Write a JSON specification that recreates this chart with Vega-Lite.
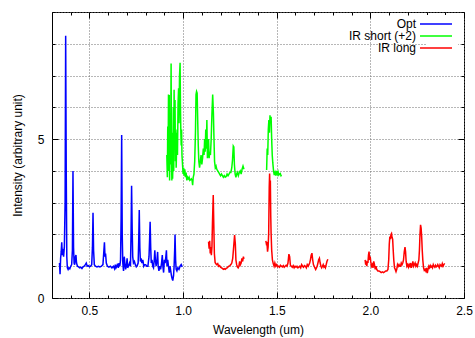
{
"$schema": "https://vega.github.io/schema/vega-lite/v6.json",
"width": 412, "height": 286,
"autosize": {"type": "none"},
"padding": {"left": 52, "top": 12, "right": 11, "bottom": 40},
"background": "white",
"config": {
  "view": {"stroke": "black", "strokeWidth": 1},
  "font": "Liberation Sans",
  "axis": {"labelFont": "Liberation Sans", "titleFont": "Liberation Sans", "labelFontSize": 12, "titleFontSize": 12, "titleFontWeight": "normal", "labelColor": "black", "titleColor": "black", "domain": false, "tickColor": "black", "gridColor": "#6e6e6e", "gridDash": [1, 2], "gridWidth": 1},
  "legend": {"labelFont": "Liberation Sans", "labelFontSize": 12, "labelColor": "black"}
},
"datasets": {
"opt": [
{"s":"Opt","g":"o","x":0.340,"y":1.10},{"s":"Opt","g":"o","x":0.343,"y":0.75},{"s":"Opt","g":"o","x":0.346,"y":1.25},{"s":"Opt","g":"o","x":0.349,"y":1.45},{"s":"Opt","g":"o","x":0.352,"y":1.75},{"s":"Opt","g":"o","x":0.355,"y":1.35},{"s":"Opt","g":"o","x":0.358,"y":1.55},{"s":"Opt","g":"o","x":0.362,"y":1.3},{"s":"Opt","g":"o","x":0.366,"y":1.6},{"s":"Opt","g":"o","x":0.370,"y":3.0},{"s":"Opt","g":"o","x":0.373,"y":8.25},{"s":"Opt","g":"o","x":0.376,"y":4.0},{"s":"Opt","g":"o","x":0.379,"y":1.3},{"s":"Opt","g":"o","x":0.382,"y":0.95},{"s":"Opt","g":"o","x":0.386,"y":0.9},{"s":"Opt","g":"o","x":0.390,"y":0.95},{"s":"Opt","g":"o","x":0.395,"y":0.92},{"s":"Opt","g":"o","x":0.400,"y":1.0},{"s":"Opt","g":"o","x":0.405,"y":1.05},{"s":"Opt","g":"o","x":0.409,"y":1.5},{"s":"Opt","g":"o","x":0.412,"y":4.0},{"s":"Opt","g":"o","x":0.415,"y":1.6},{"s":"Opt","g":"o","x":0.418,"y":1.1},{"s":"Opt","g":"o","x":0.421,"y":1.05},{"s":"Opt","g":"o","x":0.425,"y":1.3},{"s":"Opt","g":"o","x":0.428,"y":1.35},{"s":"Opt","g":"o","x":0.431,"y":1.1},{"s":"Opt","g":"o","x":0.436,"y":1.0},{"s":"Opt","g":"o","x":0.442,"y":0.98},{"s":"Opt","g":"o","x":0.448,"y":0.95},{"s":"Opt","g":"o","x":0.454,"y":0.97},{"s":"Opt","g":"o","x":0.460,"y":0.93},{"s":"Opt","g":"o","x":0.466,"y":0.98},{"s":"Opt","g":"o","x":0.472,"y":1.0},{"s":"Opt","g":"o","x":0.478,"y":1.05},{"s":"Opt","g":"o","x":0.483,"y":1.1},{"s":"Opt","g":"o","x":0.488,"y":1.0},{"s":"Opt","g":"o","x":0.494,"y":1.02},{"s":"Opt","g":"o","x":0.500,"y":0.98},{"s":"Opt","g":"o","x":0.506,"y":1.0},{"s":"Opt","g":"o","x":0.512,"y":1.05},{"s":"Opt","g":"o","x":0.516,"y":1.6},{"s":"Opt","g":"o","x":0.519,"y":2.68},{"s":"Opt","g":"o","x":0.522,"y":1.5},{"s":"Opt","g":"o","x":0.526,"y":1.05},{"s":"Opt","g":"o","x":0.532,"y":1.0},{"s":"Opt","g":"o","x":0.540,"y":0.98},{"s":"Opt","g":"o","x":0.548,"y":1.0},{"s":"Opt","g":"o","x":0.556,"y":0.98},{"s":"Opt","g":"o","x":0.564,"y":1.0},{"s":"Opt","g":"o","x":0.572,"y":1.05},{"s":"Opt","g":"o","x":0.576,"y":1.4},{"s":"Opt","g":"o","x":0.580,"y":1.75},{"s":"Opt","g":"o","x":0.583,"y":1.3},{"s":"Opt","g":"o","x":0.586,"y":1.4},{"s":"Opt","g":"o","x":0.590,"y":1.1},{"s":"Opt","g":"o","x":0.596,"y":1.0},{"s":"Opt","g":"o","x":0.604,"y":0.97},{"s":"Opt","g":"o","x":0.612,"y":1.0},{"s":"Opt","g":"o","x":0.620,"y":0.95},{"s":"Opt","g":"o","x":0.628,"y":1.0},{"s":"Opt","g":"o","x":0.634,"y":0.92},{"s":"Opt","g":"o","x":0.638,"y":1.05},{"s":"Opt","g":"o","x":0.642,"y":0.95},{"s":"Opt","g":"o","x":0.646,"y":1.0},{"s":"Opt","g":"o","x":0.650,"y":1.08},{"s":"Opt","g":"o","x":0.654,"y":0.95},{"s":"Opt","g":"o","x":0.658,"y":1.1},{"s":"Opt","g":"o","x":0.662,"y":1.0},{"s":"Opt","g":"o","x":0.666,"y":1.2},{"s":"Opt","g":"o","x":0.669,"y":2.5},{"s":"Opt","g":"o","x":0.672,"y":5.13},{"s":"Opt","g":"o","x":0.675,"y":2.0},{"s":"Opt","g":"o","x":0.678,"y":1.1},{"s":"Opt","g":"o","x":0.682,"y":0.85},{"s":"Opt","g":"o","x":0.686,"y":1.3},{"s":"Opt","g":"o","x":0.689,"y":1.1},{"s":"Opt","g":"o","x":0.693,"y":0.9},{"s":"Opt","g":"o","x":0.697,"y":1.0},{"s":"Opt","g":"o","x":0.701,"y":1.25},{"s":"Opt","g":"o","x":0.704,"y":0.95},{"s":"Opt","g":"o","x":0.708,"y":1.0},{"s":"Opt","g":"o","x":0.714,"y":1.1},{"s":"Opt","g":"o","x":0.719,"y":1.0},{"s":"Opt","g":"o","x":0.722,"y":2.0},{"s":"Opt","g":"o","x":0.725,"y":3.53},{"s":"Opt","g":"o","x":0.728,"y":2.2},{"s":"Opt","g":"o","x":0.731,"y":1.3},{"s":"Opt","g":"o","x":0.735,"y":1.1},{"s":"Opt","g":"o","x":0.740,"y":1.15},{"s":"Opt","g":"o","x":0.745,"y":1.05},{"s":"Opt","g":"o","x":0.750,"y":0.98},{"s":"Opt","g":"o","x":0.755,"y":1.02},{"s":"Opt","g":"o","x":0.760,"y":1.1},{"s":"Opt","g":"o","x":0.763,"y":1.8},{"s":"Opt","g":"o","x":0.766,"y":2.77},{"s":"Opt","g":"o","x":0.769,"y":1.6},{"s":"Opt","g":"o","x":0.772,"y":1.15},{"s":"Opt","g":"o","x":0.776,"y":1.25},{"s":"Opt","g":"o","x":0.780,"y":1.1},{"s":"Opt","g":"o","x":0.785,"y":1.2},{"s":"Opt","g":"o","x":0.790,"y":1.0},{"s":"Opt","g":"o","x":0.795,"y":1.05},{"s":"Opt","g":"o","x":0.800,"y":1.05},{"s":"Opt","g":"o","x":0.806,"y":1.0},{"s":"Opt","g":"o","x":0.812,"y":1.0},{"s":"Opt","g":"o","x":0.818,"y":1.3},{"s":"Opt","g":"o","x":0.821,"y":1.8},{"s":"Opt","g":"o","x":0.824,"y":2.4},{"s":"Opt","g":"o","x":0.827,"y":1.6},{"s":"Opt","g":"o","x":0.830,"y":1.1},{"s":"Opt","g":"o","x":0.834,"y":1.2},{"s":"Opt","g":"o","x":0.838,"y":1.0},{"s":"Opt","g":"o","x":0.842,"y":0.95},{"s":"Opt","g":"o","x":0.846,"y":1.2},{"s":"Opt","g":"o","x":0.849,"y":1.5},{"s":"Opt","g":"o","x":0.852,"y":1.2},{"s":"Opt","g":"o","x":0.856,"y":1.0},{"s":"Opt","g":"o","x":0.860,"y":1.15},{"s":"Opt","g":"o","x":0.864,"y":1.45},{"s":"Opt","g":"o","x":0.867,"y":1.0},{"s":"Opt","g":"o","x":0.871,"y":0.85},{"s":"Opt","g":"o","x":0.875,"y":1.0},{"s":"Opt","g":"o","x":0.880,"y":0.9},{"s":"Opt","g":"o","x":0.885,"y":1.1},{"s":"Opt","g":"o","x":0.889,"y":1.35},{"s":"Opt","g":"o","x":0.892,"y":1.0},{"s":"Opt","g":"o","x":0.896,"y":0.8},{"s":"Opt","g":"o","x":0.900,"y":1.2},{"s":"Opt","g":"o","x":0.904,"y":1.1},{"s":"Opt","g":"o","x":0.908,"y":1.3},{"s":"Opt","g":"o","x":0.911,"y":1.5},{"s":"Opt","g":"o","x":0.914,"y":1.0},{"s":"Opt","g":"o","x":0.918,"y":1.2},{"s":"Opt","g":"o","x":0.922,"y":1.0},{"s":"Opt","g":"o","x":0.926,"y":0.8},{"s":"Opt","g":"o","x":0.930,"y":1.0},{"s":"Opt","g":"o","x":0.934,"y":0.85},{"s":"Opt","g":"o","x":0.938,"y":0.7},{"s":"Opt","g":"o","x":0.942,"y":0.6},{"s":"Opt","g":"o","x":0.945,"y":0.55},{"s":"Opt","g":"o","x":0.949,"y":0.7},{"s":"Opt","g":"o","x":0.952,"y":1.0},{"s":"Opt","g":"o","x":0.955,"y":1.5},{"s":"Opt","g":"o","x":0.957,"y":2.0},{"s":"Opt","g":"o","x":0.960,"y":1.2},{"s":"Opt","g":"o","x":0.963,"y":0.9},{"s":"Opt","g":"o","x":0.967,"y":0.85},{"s":"Opt","g":"o","x":0.972,"y":0.95},{"s":"Opt","g":"o","x":0.978,"y":0.9},{"s":"Opt","g":"o","x":0.984,"y":1.0},{"s":"Opt","g":"o","x":0.990,"y":1.05},{"s":"Opt","g":"o","x":0.995,"y":0.98}
],
"irs": [
{"s":"IR short (+2)","g":"s1","x":0.913,"y":4.5},{"s":"IR short (+2)","g":"s1","x":0.916,"y":3.8},{"s":"IR short (+2)","g":"s1","x":0.918,"y":5.4},{"s":"IR short (+2)","g":"s1","x":0.920,"y":4.2},{"s":"IR short (+2)","g":"s1","x":0.922,"y":6.4},{"s":"IR short (+2)","g":"s1","x":0.924,"y":4.0},{"s":"IR short (+2)","g":"s1","x":0.926,"y":6.39},{"s":"IR short (+2)","g":"s1","x":0.928,"y":3.7},{"s":"IR short (+2)","g":"s1","x":0.930,"y":5.0},{"s":"IR short (+2)","g":"s1","x":0.933,"y":4.2},{"s":"IR short (+2)","g":"s1","x":0.936,"y":7.38},{"s":"IR short (+2)","g":"s1","x":0.938,"y":4.5},{"s":"IR short (+2)","g":"s1","x":0.940,"y":3.7},{"s":"IR short (+2)","g":"s1","x":0.942,"y":5.2},{"s":"IR short (+2)","g":"s1","x":0.944,"y":3.75},{"s":"IR short (+2)","g":"s1","x":0.946,"y":4.3},{"s":"IR short (+2)","g":"s1","x":0.948,"y":6.0},{"s":"IR short (+2)","g":"s1","x":0.950,"y":4.0},{"s":"IR short (+2)","g":"s1","x":0.952,"y":6.55},{"s":"IR short (+2)","g":"s1","x":0.954,"y":4.8},{"s":"IR short (+2)","g":"s1","x":0.957,"y":6.23},{"s":"IR short (+2)","g":"s1","x":0.959,"y":4.3},{"s":"IR short (+2)","g":"s1","x":0.961,"y":5.2},{"s":"IR short (+2)","g":"s1","x":0.963,"y":4.1},{"s":"IR short (+2)","g":"s1","x":0.965,"y":4.6},{"s":"IR short (+2)","g":"s1","x":0.968,"y":5.3},{"s":"IR short (+2)","g":"s1","x":0.970,"y":4.5},{"s":"IR short (+2)","g":"s1","x":0.973,"y":6.1},{"s":"IR short (+2)","g":"s1","x":0.976,"y":6.6},{"s":"IR short (+2)","g":"s1","x":0.978,"y":5.5},{"s":"IR short (+2)","g":"s1","x":0.981,"y":7.0},{"s":"IR short (+2)","g":"s1","x":0.984,"y":7.4},{"s":"IR short (+2)","g":"s1","x":0.986,"y":6.0},{"s":"IR short (+2)","g":"s1","x":0.988,"y":5.2},{"s":"IR short (+2)","g":"s1","x":0.990,"y":4.8},{"s":"IR short (+2)","g":"s1","x":0.992,"y":5.3},{"s":"IR short (+2)","g":"s1","x":0.994,"y":4.5},{"s":"IR short (+2)","g":"s1","x":0.997,"y":4.2},{"s":"IR short (+2)","g":"s1","x":1.000,"y":3.9},{"s":"IR short (+2)","g":"s1","x":1.003,"y":4.1},{"s":"IR short (+2)","g":"s1","x":1.006,"y":3.85},{"s":"IR short (+2)","g":"s1","x":1.009,"y":4.05},{"s":"IR short (+2)","g":"s1","x":1.012,"y":3.8},{"s":"IR short (+2)","g":"s1","x":1.016,"y":3.95},{"s":"IR short (+2)","g":"s1","x":1.020,"y":3.7},{"s":"IR short (+2)","g":"s1","x":1.024,"y":3.8},{"s":"IR short (+2)","g":"s1","x":1.028,"y":3.75},{"s":"IR short (+2)","g":"s1","x":1.032,"y":3.8},{"s":"IR short (+2)","g":"s1","x":1.036,"y":3.7},{"s":"IR short (+2)","g":"s1","x":1.040,"y":3.72},{"s":"IR short (+2)","g":"s1","x":1.044,"y":3.75},{"s":"IR short (+2)","g":"s1","x":1.048,"y":3.7},{"s":"IR short (+2)","g":"s1","x":1.051,"y":3.55},{"s":"IR short (+2)","g":"s1","x":1.054,"y":3.8},{"s":"IR short (+2)","g":"s1","x":1.058,"y":3.9},{"s":"IR short (+2)","g":"s1","x":1.062,"y":4.3},{"s":"IR short (+2)","g":"s1","x":1.066,"y":5.2},{"s":"IR short (+2)","g":"s1","x":1.069,"y":6.4},{"s":"IR short (+2)","g":"s1","x":1.072,"y":6.5},{"s":"IR short (+2)","g":"s1","x":1.075,"y":6.45},{"s":"IR short (+2)","g":"s1","x":1.078,"y":5.6},{"s":"IR short (+2)","g":"s1","x":1.081,"y":4.8},{"s":"IR short (+2)","g":"s1","x":1.084,"y":4.3},{"s":"IR short (+2)","g":"s1","x":1.088,"y":4.1},{"s":"IR short (+2)","g":"s1","x":1.092,"y":4.3},{"s":"IR short (+2)","g":"s1","x":1.096,"y":4.5},{"s":"IR short (+2)","g":"s1","x":1.100,"y":4.2},{"s":"IR short (+2)","g":"s1","x":1.104,"y":4.4},{"s":"IR short (+2)","g":"s1","x":1.108,"y":4.7},{"s":"IR short (+2)","g":"s1","x":1.112,"y":4.5},{"s":"IR short (+2)","g":"s1","x":1.115,"y":5.0},{"s":"IR short (+2)","g":"s1","x":1.118,"y":4.6},{"s":"IR short (+2)","g":"s1","x":1.121,"y":5.3},{"s":"IR short (+2)","g":"s1","x":1.124,"y":4.7},{"s":"IR short (+2)","g":"s1","x":1.127,"y":5.6},{"s":"IR short (+2)","g":"s1","x":1.130,"y":4.4},{"s":"IR short (+2)","g":"s1","x":1.133,"y":4.6},{"s":"IR short (+2)","g":"s1","x":1.136,"y":5.0},{"s":"IR short (+2)","g":"s1","x":1.139,"y":4.4},{"s":"IR short (+2)","g":"s1","x":1.142,"y":4.6},{"s":"IR short (+2)","g":"s1","x":1.146,"y":4.5},{"s":"IR short (+2)","g":"s1","x":1.150,"y":5.0},{"s":"IR short (+2)","g":"s1","x":1.154,"y":5.8},{"s":"IR short (+2)","g":"s1","x":1.158,"y":6.4},{"s":"IR short (+2)","g":"s1","x":1.162,"y":5.8},{"s":"IR short (+2)","g":"s1","x":1.165,"y":5.0},{"s":"IR short (+2)","g":"s1","x":1.168,"y":4.3},{"s":"IR short (+2)","g":"s1","x":1.172,"y":4.1},{"s":"IR short (+2)","g":"s1","x":1.176,"y":4.15},{"s":"IR short (+2)","g":"s1","x":1.180,"y":4.05},{"s":"IR short (+2)","g":"s1","x":1.185,"y":4.0},{"s":"IR short (+2)","g":"s1","x":1.190,"y":3.95},{"s":"IR short (+2)","g":"s1","x":1.195,"y":3.9},{"s":"IR short (+2)","g":"s1","x":1.200,"y":3.85},{"s":"IR short (+2)","g":"s1","x":1.205,"y":3.9},{"s":"IR short (+2)","g":"s1","x":1.210,"y":3.85},{"s":"IR short (+2)","g":"s1","x":1.215,"y":3.8},{"s":"IR short (+2)","g":"s1","x":1.220,"y":3.85},{"s":"IR short (+2)","g":"s1","x":1.225,"y":3.8},{"s":"IR short (+2)","g":"s1","x":1.230,"y":3.82},{"s":"IR short (+2)","g":"s1","x":1.235,"y":3.9},{"s":"IR short (+2)","g":"s1","x":1.240,"y":3.85},{"s":"IR short (+2)","g":"s1","x":1.245,"y":3.9},{"s":"IR short (+2)","g":"s1","x":1.250,"y":3.95},{"s":"IR short (+2)","g":"s1","x":1.255,"y":3.95},{"s":"IR short (+2)","g":"s1","x":1.260,"y":4.1},{"s":"IR short (+2)","g":"s1","x":1.264,"y":4.35},{"s":"IR short (+2)","g":"s1","x":1.268,"y":4.78},{"s":"IR short (+2)","g":"s1","x":1.271,"y":4.75},{"s":"IR short (+2)","g":"s1","x":1.274,"y":4.2},{"s":"IR short (+2)","g":"s1","x":1.278,"y":3.9},{"s":"IR short (+2)","g":"s1","x":1.282,"y":3.8},{"s":"IR short (+2)","g":"s1","x":1.286,"y":3.9},{"s":"IR short (+2)","g":"s1","x":1.290,"y":3.95},{"s":"IR short (+2)","g":"s1","x":1.295,"y":3.85},{"s":"IR short (+2)","g":"s1","x":1.300,"y":3.95},{"s":"IR short (+2)","g":"s1","x":1.305,"y":4.0},{"s":"IR short (+2)","g":"s1","x":1.310,"y":3.9},{"s":"IR short (+2)","g":"s1","x":1.315,"y":4.05},{"s":"IR short (+2)","g":"s1","x":1.320,"y":4.15},{"s":"IR short (+2)","g":"s1","x":1.325,"y":4.05},
{"s":"IR short (+2)","g":"s2","x":1.446,"y":4.03},{"s":"IR short (+2)","g":"s2","x":1.449,"y":4.7},{"s":"IR short (+2)","g":"s2","x":1.452,"y":4.5},{"s":"IR short (+2)","g":"s2","x":1.455,"y":5.3},{"s":"IR short (+2)","g":"s2","x":1.458,"y":5.6},{"s":"IR short (+2)","g":"s2","x":1.461,"y":5.2},{"s":"IR short (+2)","g":"s2","x":1.464,"y":5.75},{"s":"IR short (+2)","g":"s2","x":1.467,"y":5.5},{"s":"IR short (+2)","g":"s2","x":1.470,"y":5.7},{"s":"IR short (+2)","g":"s2","x":1.473,"y":5.0},{"s":"IR short (+2)","g":"s2","x":1.476,"y":4.5},{"s":"IR short (+2)","g":"s2","x":1.479,"y":4.25},{"s":"IR short (+2)","g":"s2","x":1.483,"y":4.0},{"s":"IR short (+2)","g":"s2","x":1.487,"y":3.87},{"s":"IR short (+2)","g":"s2","x":1.491,"y":3.95},{"s":"IR short (+2)","g":"s2","x":1.495,"y":3.85},{"s":"IR short (+2)","g":"s2","x":1.499,"y":4.0},{"s":"IR short (+2)","g":"s2","x":1.503,"y":3.9},{"s":"IR short (+2)","g":"s2","x":1.507,"y":3.97},{"s":"IR short (+2)","g":"s2","x":1.511,"y":3.87},{"s":"IR short (+2)","g":"s2","x":1.515,"y":3.9},{"s":"IR short (+2)","g":"s2","x":1.519,"y":3.92},{"s":"IR short (+2)","g":"s2","x":1.523,"y":3.85},{"s":"IR short (+2)","g":"s2","x":1.526,"y":3.87}
],
"irl": [
{"s":"IR long","g":"l1","x":1.136,"y":1.77},{"s":"IR long","g":"l1","x":1.139,"y":1.55},{"s":"IR long","g":"l1","x":1.142,"y":1.8},{"s":"IR long","g":"l1","x":1.145,"y":1.4},{"s":"IR long","g":"l1","x":1.148,"y":1.6},{"s":"IR long","g":"l1","x":1.151,"y":1.35},{"s":"IR long","g":"l1","x":1.154,"y":1.6},{"s":"IR long","g":"l1","x":1.157,"y":2.4},{"s":"IR long","g":"l1","x":1.161,"y":3.24},{"s":"IR long","g":"l1","x":1.164,"y":2.3},{"s":"IR long","g":"l1","x":1.167,"y":1.4},{"s":"IR long","g":"l1","x":1.171,"y":1.12},{"s":"IR long","g":"l1","x":1.175,"y":1.08},{"s":"IR long","g":"l1","x":1.180,"y":1.05},{"s":"IR long","g":"l1","x":1.185,"y":1.08},{"s":"IR long","g":"l1","x":1.190,"y":1.0},{"s":"IR long","g":"l1","x":1.195,"y":1.02},{"s":"IR long","g":"l1","x":1.200,"y":0.97},{"s":"IR long","g":"l1","x":1.205,"y":0.95},{"s":"IR long","g":"l1","x":1.210,"y":0.93},{"s":"IR long","g":"l1","x":1.215,"y":0.9},{"s":"IR long","g":"l1","x":1.220,"y":0.92},{"s":"IR long","g":"l1","x":1.225,"y":0.9},{"s":"IR long","g":"l1","x":1.230,"y":0.93},{"s":"IR long","g":"l1","x":1.235,"y":0.95},{"s":"IR long","g":"l1","x":1.240,"y":0.98},{"s":"IR long","g":"l1","x":1.245,"y":1.0},{"s":"IR long","g":"l1","x":1.250,"y":1.02},{"s":"IR long","g":"l1","x":1.255,"y":1.05},{"s":"IR long","g":"l1","x":1.260,"y":1.1},{"s":"IR long","g":"l1","x":1.265,"y":1.25},{"s":"IR long","g":"l1","x":1.270,"y":1.6},{"s":"IR long","g":"l1","x":1.275,"y":1.98},{"s":"IR long","g":"l1","x":1.279,"y":1.7},{"s":"IR long","g":"l1","x":1.282,"y":1.2},{"s":"IR long","g":"l1","x":1.286,"y":1.05},{"s":"IR long","g":"l1","x":1.290,"y":0.98},{"s":"IR long","g":"l1","x":1.294,"y":0.95},{"s":"IR long","g":"l1","x":1.298,"y":1.0},{"s":"IR long","g":"l1","x":1.302,"y":1.15},{"s":"IR long","g":"l1","x":1.306,"y":1.05},{"s":"IR long","g":"l1","x":1.310,"y":1.1},{"s":"IR long","g":"l1","x":1.314,"y":1.25},{"s":"IR long","g":"l1","x":1.318,"y":1.15},{"s":"IR long","g":"l1","x":1.322,"y":1.3},{"s":"IR long","g":"l1","x":1.325,"y":1.23},
{"s":"IR long","g":"l2","x":1.442,"y":1.8},{"s":"IR long","g":"l2","x":1.445,"y":1.7},{"s":"IR long","g":"l2","x":1.448,"y":1.72},{"s":"IR long","g":"l2","x":1.451,"y":1.46},{"s":"IR long","g":"l2","x":1.454,"y":1.6},{"s":"IR long","g":"l2","x":1.457,"y":2.03},{"s":"IR long","g":"l2","x":1.460,"y":3.5},{"s":"IR long","g":"l2","x":1.462,"y":3.92},{"s":"IR long","g":"l2","x":1.464,"y":3.4},{"s":"IR long","g":"l2","x":1.466,"y":3.7},{"s":"IR long","g":"l2","x":1.468,"y":2.6},{"s":"IR long","g":"l2","x":1.470,"y":2.03},{"s":"IR long","g":"l2","x":1.473,"y":1.51},{"s":"IR long","g":"l2","x":1.477,"y":1.2},{"s":"IR long","g":"l2","x":1.481,"y":1.09},{"s":"IR long","g":"l2","x":1.486,"y":1.0},{"s":"IR long","g":"l2","x":1.490,"y":1.1},{"s":"IR long","g":"l2","x":1.495,"y":1.0},{"s":"IR long","g":"l2","x":1.500,"y":1.05},{"s":"IR long","g":"l2","x":1.505,"y":0.98},{"s":"IR long","g":"l2","x":1.510,"y":1.0},{"s":"IR long","g":"l2","x":1.515,"y":0.97},{"s":"IR long","g":"l2","x":1.520,"y":1.03},{"s":"IR long","g":"l2","x":1.525,"y":1.0},{"s":"IR long","g":"l2","x":1.530,"y":0.98},{"s":"IR long","g":"l2","x":1.535,"y":1.02},{"s":"IR long","g":"l2","x":1.540,"y":0.97},{"s":"IR long","g":"l2","x":1.545,"y":1.0},{"s":"IR long","g":"l2","x":1.550,"y":1.03},{"s":"IR long","g":"l2","x":1.555,"y":1.0},{"s":"IR long","g":"l2","x":1.560,"y":1.1},{"s":"IR long","g":"l2","x":1.565,"y":1.38},{"s":"IR long","g":"l2","x":1.569,"y":1.3},{"s":"IR long","g":"l2","x":1.573,"y":1.03},{"s":"IR long","g":"l2","x":1.578,"y":1.0},{"s":"IR long","g":"l2","x":1.583,"y":0.97},{"s":"IR long","g":"l2","x":1.588,"y":1.02},{"s":"IR long","g":"l2","x":1.593,"y":0.95},{"s":"IR long","g":"l2","x":1.598,"y":1.0},{"s":"IR long","g":"l2","x":1.603,"y":0.97},{"s":"IR long","g":"l2","x":1.608,"y":1.0},{"s":"IR long","g":"l2","x":1.613,"y":0.95},{"s":"IR long","g":"l2","x":1.618,"y":0.97},{"s":"IR long","g":"l2","x":1.623,"y":1.0},{"s":"IR long","g":"l2","x":1.628,"y":0.95},{"s":"IR long","g":"l2","x":1.633,"y":1.05},{"s":"IR long","g":"l2","x":1.638,"y":1.0},{"s":"IR long","g":"l2","x":1.643,"y":0.97},{"s":"IR long","g":"l2","x":1.648,"y":1.02},{"s":"IR long","g":"l2","x":1.653,"y":1.0},{"s":"IR long","g":"l2","x":1.658,"y":0.95},{"s":"IR long","g":"l2","x":1.663,"y":1.05},{"s":"IR long","g":"l2","x":1.668,"y":1.0},{"s":"IR long","g":"l2","x":1.672,"y":1.05},{"s":"IR long","g":"l2","x":1.676,"y":1.1},{"s":"IR long","g":"l2","x":1.680,"y":1.2},{"s":"IR long","g":"l2","x":1.684,"y":1.35},{"s":"IR long","g":"l2","x":1.688,"y":1.41},{"s":"IR long","g":"l2","x":1.692,"y":1.2},{"s":"IR long","g":"l2","x":1.696,"y":1.05},{"s":"IR long","g":"l2","x":1.700,"y":1.0},{"s":"IR long","g":"l2","x":1.704,"y":0.95},{"s":"IR long","g":"l2","x":1.708,"y":0.9},{"s":"IR long","g":"l2","x":1.712,"y":0.95},{"s":"IR long","g":"l2","x":1.716,"y":1.0},{"s":"IR long","g":"l2","x":1.720,"y":1.1},{"s":"IR long","g":"l2","x":1.724,"y":1.2},{"s":"IR long","g":"l2","x":1.728,"y":1.25},{"s":"IR long","g":"l2","x":1.732,"y":1.1},{"s":"IR long","g":"l2","x":1.736,"y":1.0},{"s":"IR long","g":"l2","x":1.740,"y":0.95},{"s":"IR long","g":"l2","x":1.744,"y":1.0},{"s":"IR long","g":"l2","x":1.748,"y":1.05},{"s":"IR long","g":"l2","x":1.752,"y":0.97},{"s":"IR long","g":"l2","x":1.756,"y":1.0},{"s":"IR long","g":"l2","x":1.760,"y":0.95},{"s":"IR long","g":"l2","x":1.764,"y":1.05},{"s":"IR long","g":"l2","x":1.768,"y":1.15},{"s":"IR long","g":"l2","x":1.773,"y":1.22},
{"s":"IR long","g":"l3","x":1.972,"y":1.2},{"s":"IR long","g":"l3","x":1.975,"y":1.05},{"s":"IR long","g":"l3","x":1.978,"y":1.1},{"s":"IR long","g":"l3","x":1.981,"y":1.0},{"s":"IR long","g":"l3","x":1.984,"y":1.15},{"s":"IR long","g":"l3","x":1.987,"y":1.1},{"s":"IR long","g":"l3","x":1.990,"y":1.35},{"s":"IR long","g":"l3","x":1.993,"y":1.46},{"s":"IR long","g":"l3","x":1.996,"y":1.2},{"s":"IR long","g":"l3","x":1.999,"y":1.3},{"s":"IR long","g":"l3","x":2.002,"y":1.15},{"s":"IR long","g":"l3","x":2.006,"y":1.0},{"s":"IR long","g":"l3","x":2.010,"y":1.05},{"s":"IR long","g":"l3","x":2.014,"y":0.95},{"s":"IR long","g":"l3","x":2.018,"y":1.15},{"s":"IR long","g":"l3","x":2.022,"y":1.05},{"s":"IR long","g":"l3","x":2.026,"y":0.9},{"s":"IR long","g":"l3","x":2.030,"y":1.0},{"s":"IR long","g":"l3","x":2.034,"y":0.9},{"s":"IR long","g":"l3","x":2.040,"y":0.85},{"s":"IR long","g":"l3","x":2.046,"y":0.85},{"s":"IR long","g":"l3","x":2.052,"y":0.83},{"s":"IR long","g":"l3","x":2.058,"y":0.8},{"s":"IR long","g":"l3","x":2.064,"y":0.82},{"s":"IR long","g":"l3","x":2.070,"y":0.8},{"s":"IR long","g":"l3","x":2.076,"y":0.82},{"s":"IR long","g":"l3","x":2.082,"y":0.85},{"s":"IR long","g":"l3","x":2.088,"y":0.85},{"s":"IR long","g":"l3","x":2.094,"y":0.9},{"s":"IR long","g":"l3","x":2.098,"y":1.2},{"s":"IR long","g":"l3","x":2.101,"y":1.7},{"s":"IR long","g":"l3","x":2.104,"y":1.93},{"s":"IR long","g":"l3","x":2.107,"y":1.85},{"s":"IR long","g":"l3","x":2.110,"y":2.0},{"s":"IR long","g":"l3","x":2.113,"y":2.03},{"s":"IR long","g":"l3","x":2.116,"y":1.9},{"s":"IR long","g":"l3","x":2.119,"y":1.85},{"s":"IR long","g":"l3","x":2.122,"y":1.5},{"s":"IR long","g":"l3","x":2.125,"y":1.2},{"s":"IR long","g":"l3","x":2.129,"y":0.95},{"s":"IR long","g":"l3","x":2.133,"y":0.9},{"s":"IR long","g":"l3","x":2.137,"y":0.83},{"s":"IR long","g":"l3","x":2.141,"y":0.9},{"s":"IR long","g":"l3","x":2.145,"y":1.05},{"s":"IR long","g":"l3","x":2.149,"y":1.0},{"s":"IR long","g":"l3","x":2.153,"y":1.05},{"s":"IR long","g":"l3","x":2.157,"y":1.0},{"s":"IR long","g":"l3","x":2.161,"y":1.0},{"s":"IR long","g":"l3","x":2.165,"y":1.1},{"s":"IR long","g":"l3","x":2.169,"y":1.05},{"s":"IR long","g":"l3","x":2.173,"y":1.1},{"s":"IR long","g":"l3","x":2.177,"y":1.2},{"s":"IR long","g":"l3","x":2.181,"y":1.45},{"s":"IR long","g":"l3","x":2.185,"y":1.6},{"s":"IR long","g":"l3","x":2.188,"y":1.45},{"s":"IR long","g":"l3","x":2.191,"y":1.15},{"s":"IR long","g":"l3","x":2.195,"y":1.0},{"s":"IR long","g":"l3","x":2.199,"y":1.05},{"s":"IR long","g":"l3","x":2.203,"y":0.97},{"s":"IR long","g":"l3","x":2.207,"y":1.05},{"s":"IR long","g":"l3","x":2.211,"y":1.0},{"s":"IR long","g":"l3","x":2.215,"y":1.1},{"s":"IR long","g":"l3","x":2.219,"y":0.95},{"s":"IR long","g":"l3","x":2.223,"y":1.05},{"s":"IR long","g":"l3","x":2.227,"y":1.15},{"s":"IR long","g":"l3","x":2.231,"y":1.0},{"s":"IR long","g":"l3","x":2.235,"y":1.05},{"s":"IR long","g":"l3","x":2.239,"y":1.1},{"s":"IR long","g":"l3","x":2.243,"y":1.0},{"s":"IR long","g":"l3","x":2.247,"y":1.05},{"s":"IR long","g":"l3","x":2.251,"y":1.0},{"s":"IR long","g":"l3","x":2.255,"y":1.1},{"s":"IR long","g":"l3","x":2.259,"y":1.2},{"s":"IR long","g":"l3","x":2.262,"y":1.5},{"s":"IR long","g":"l3","x":2.265,"y":2.0},{"s":"IR long","g":"l3","x":2.268,"y":2.3},{"s":"IR long","g":"l3","x":2.271,"y":2.2},{"s":"IR long","g":"l3","x":2.274,"y":1.93},{"s":"IR long","g":"l3","x":2.277,"y":1.5},{"s":"IR long","g":"l3","x":2.280,"y":1.2},{"s":"IR long","g":"l3","x":2.284,"y":0.95},{"s":"IR long","g":"l3","x":2.288,"y":0.87},{"s":"IR long","g":"l3","x":2.292,"y":0.9},{"s":"IR long","g":"l3","x":2.296,"y":0.85},{"s":"IR long","g":"l3","x":2.300,"y":0.95},{"s":"IR long","g":"l3","x":2.304,"y":0.78},{"s":"IR long","g":"l3","x":2.308,"y":0.9},{"s":"IR long","g":"l3","x":2.312,"y":1.0},{"s":"IR long","g":"l3","x":2.316,"y":0.95},{"s":"IR long","g":"l3","x":2.320,"y":1.02},{"s":"IR long","g":"l3","x":2.324,"y":0.97},{"s":"IR long","g":"l3","x":2.328,"y":1.0},{"s":"IR long","g":"l3","x":2.332,"y":0.95},{"s":"IR long","g":"l3","x":2.336,"y":1.05},{"s":"IR long","g":"l3","x":2.340,"y":1.0},{"s":"IR long","g":"l3","x":2.344,"y":0.97},{"s":"IR long","g":"l3","x":2.348,"y":1.03},{"s":"IR long","g":"l3","x":2.352,"y":0.98},{"s":"IR long","g":"l3","x":2.356,"y":1.0},{"s":"IR long","g":"l3","x":2.360,"y":1.05},{"s":"IR long","g":"l3","x":2.364,"y":1.0},{"s":"IR long","g":"l3","x":2.368,"y":0.95},{"s":"IR long","g":"l3","x":2.372,"y":1.05},{"s":"IR long","g":"l3","x":2.376,"y":1.02},{"s":"IR long","g":"l3","x":2.380,"y":1.0},{"s":"IR long","g":"l3","x":2.384,"y":1.08},{"s":"IR long","g":"l3","x":2.388,"y":1.0},{"s":"IR long","g":"l3","x":2.392,"y":1.05},{"s":"IR long","g":"l3","x":2.397,"y":1.09}
]
},
"data": {"name": "opt"},
"layer": [
  {
    "data": {"name": "irs"},
    "mark": {"type": "line", "strokeWidth": 1.5, "clip": true},
    "encoding": {
      "x": {"field": "x", "type": "quantitative", "scale": {"domain": [0.3, 2.5], "nice": false, "zero": false},
        "axis": {"orient": "bottom", "title": "Wavelength (um)", "values": [0.3,0.4,0.5,0.6,0.7,0.8,0.9,1.0,1.1,1.2,1.3,1.4,1.5,1.6,1.7,1.8,1.9,2.0,2.1,2.2,2.3,2.4,2.5],
          "labelExpr": "abs(datum.value*2 - round(datum.value*2)) < 0.001 ? format(datum.value, '.1f') : ''",
          "tickSize": {"condition": {"test": "abs(datum.value*2 - round(datum.value*2)) < 0.001", "value": -6}, "value": -3},
          "gridOpacity": {"condition": {"test": "abs(datum.value*2 - round(datum.value*2)) < 0.001", "value": 1}, "value": 0},
          "labelPadding": 13, "labelFlush": false, "labelOverlap": false, "titleY": 31, "titleBaseline": "middle"}},
      "y": {"field": "y", "type": "quantitative", "scale": {"domain": [0, 9], "nice": false, "zero": false},
        "axis": {"orient": "left", "title": "Intensity (arbitrary unit)", "values": [0,1,2,3,4,5,6,7,8,9],
          "labelExpr": "datum.value % 5 == 0 ? datum.label : ''",
          "tickSize": {"condition": {"test": "datum.value % 5 == 0", "value": -6}, "value": -3},
          "labelPadding": 14, "labelFlush": false, "labelOverlap": false, "titleX": -35, "titleY": 143, "titleBaseline": "middle"}},
      "color": {"field": "s", "type": "nominal",
        "scale": {"domain": ["Opt", "IR short (+2)", "IR long"], "range": ["#0000ff", "#00ff00", "#ff0000"]},
        "legend": {"title": null, "orient": "none", "legendX": 375, "legendY": 3, "symbolType": "M-16,0H16", "symbolSize": 4, "symbolStrokeWidth": 1.5, "labelAlign": "right", "labelOffset": -26, "rowPadding": 0, "padding": 3, "fillColor": "white"}},
      "detail": {"field": "g"}
    }
  },
  {
    "data": {"name": "irl"},
    "mark": {"type": "line", "strokeWidth": 1.5, "clip": true},
    "encoding": {
      "x": {"field": "x", "type": "quantitative", "axis": null},
      "y": {"field": "y", "type": "quantitative", "axis": null},
      "color": {"field": "s", "type": "nominal"},
      "detail": {"field": "g"}
    }
  },
  {
    "data": {"name": "opt"},
    "mark": {"type": "line", "strokeWidth": 1.5, "clip": true},
    "encoding": {
      "x": {"field": "x", "type": "quantitative", "axis": null},
      "y": {"field": "y", "type": "quantitative", "axis": null},
      "color": {"field": "s", "type": "nominal"},
      "detail": {"field": "g"}
    }
  },
  {
    "data": {"name": "opt"},
    "mark": {"type": "line", "strokeOpacity": 0},
    "encoding": {
      "x": {"field": "x", "type": "quantitative",
        "axis": {"orient": "top", "title": null, "labels": false, "grid": false, "values": [0.3,0.4,0.5,0.6,0.7,0.8,0.9,1.0,1.1,1.2,1.3,1.4,1.5,1.6,1.7,1.8,1.9,2.0,2.1,2.2,2.3,2.4,2.5],
          "tickSize": {"condition": {"test": "abs(datum.value*2 - round(datum.value*2)) < 0.001", "value": -6}, "value": -3}}},
      "y": {"field": "y", "type": "quantitative",
        "axis": {"orient": "right", "title": null, "labels": false, "grid": false, "values": [0,1,2,3,4,5,6,7,8,9],
          "tickSize": {"condition": {"test": "datum.value % 5 == 0", "value": -6}, "value": -3}}}
    }
  }
],
"resolve": {"axis": {"x": "independent", "y": "independent"}}
}
